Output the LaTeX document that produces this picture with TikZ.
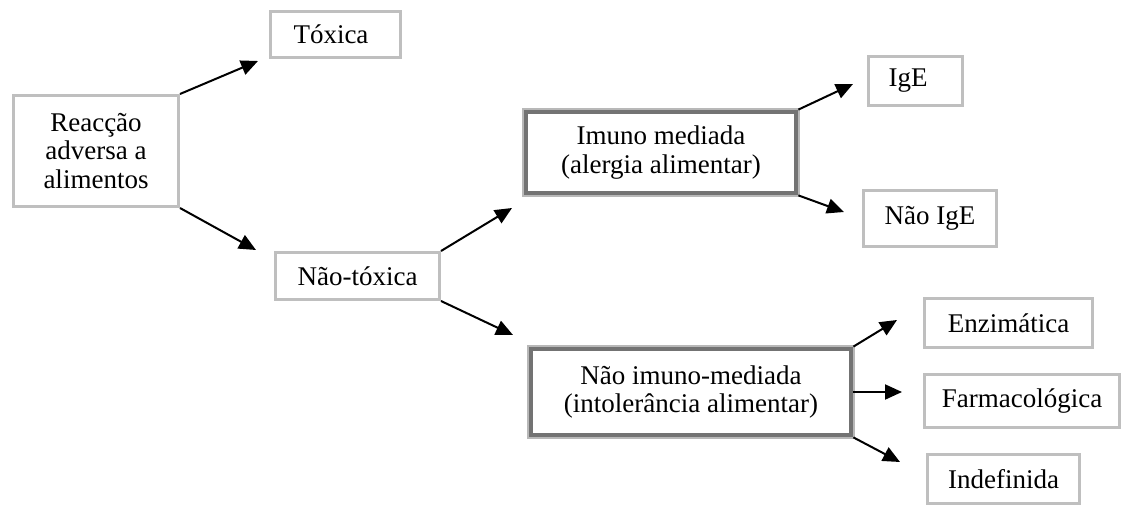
\documentclass[tikz,border=0pt]{standalone}
\usepackage{fontspec}
\setmainfont{Liberation Serif}
\usetikzlibrary{arrows.meta, positioning}

\tikzset{
  box/.style={draw=black!25, line width=1.5pt, fill=white, inner sep=0pt,
    align=center, font=\fontsize{13.5}{14.4}\selectfont},
  leftbox/.style={box, align=left},
  bigbox/.style={box, draw=black!55, line width=2.4pt,
    preaction={draw=black!28, line width=4.2pt}},
  arr/.style={-{Triangle[length=8.5pt,width=7.5pt]}, line width=1pt},
}

\begin{document}
\begin{tikzpicture}[x=0.5pt, y=-0.5pt]
\useasboundingbox (0,0) rectangle (1122,507);

% left part
\node[box, minimum width=82.5pt, minimum height=55.5pt] (reac) at (96,151)
  {Reacção\\adversa a\\alimentos};
\node[leftbox, minimum height=23pt, text width=42pt, inner xsep=11.5pt] (toxica) at (335.5,34.5) {Tóxica};
\node[box, minimum width=82pt, minimum height=23.5pt] (naotox) at (357.5,276) {Não-tóxica};

% middle
\node[bigbox, minimum width=135pt, minimum height=40.5pt] (imuno) at (661,152.5)
  {Imuno mediada\\(alergia alimentar)};
\node[bigbox, minimum width=160pt, minimum height=43pt] (naoimuno) at (691,392)
  {Não imuno-mediada\\(intolerância alimentar)};

% right part
\node[leftbox, minimum height=24.5pt, text width=27pt, inner xsep=10pt] (ige) at (915.5,81) {IgE};
\node[box, minimum width=66.5pt, minimum height=28pt] (naoige) at (930,218.5) {Não IgE};
\node[box, minimum width=84pt, minimum height=24.5pt] (enzim) at (1008.5,323) {Enzimática};
\node[box, minimum width=97.5pt, minimum height=26.5pt] (farma) at (1022,401) {Farmacológica};
\node[box, minimum width=76pt, minimum height=24.5pt] (indef) at (1003.5,479) {Indefinida};

% arrow tips (they stop short of the boxes)
\coordinate (toxicaIn) at (258,61);
\coordinate (naotoxIn) at (256,250);
\coordinate (imunoIn) at (512,208);
\coordinate (naoimunoIn) at (513,335);
\coordinate (igeIn) at (853,84);
\coordinate (naoigeIn) at (844,212);
\coordinate (enzimIn) at (897,320);
\coordinate (farmaIn) at (902,392);
\coordinate (indefIn) at (900,462);

\draw[arr] (reac.north east) -- (toxicaIn);
\draw[arr] (reac.south east) -- (naotoxIn);
\draw[arr] (naotox.north east) -- (imunoIn);
\draw[arr] (naotox.south east) -- (naoimunoIn);
\draw[arr] (imuno.north east) -- (igeIn);
\draw[arr] (imuno.south east) -- (naoigeIn);
\draw[arr] (naoimuno.north east) -- (enzimIn);
\draw[arr] (naoimuno.east) -- (farmaIn);
\draw[arr] (naoimuno.south east) -- (indefIn);
\end{tikzpicture}
\end{document}
